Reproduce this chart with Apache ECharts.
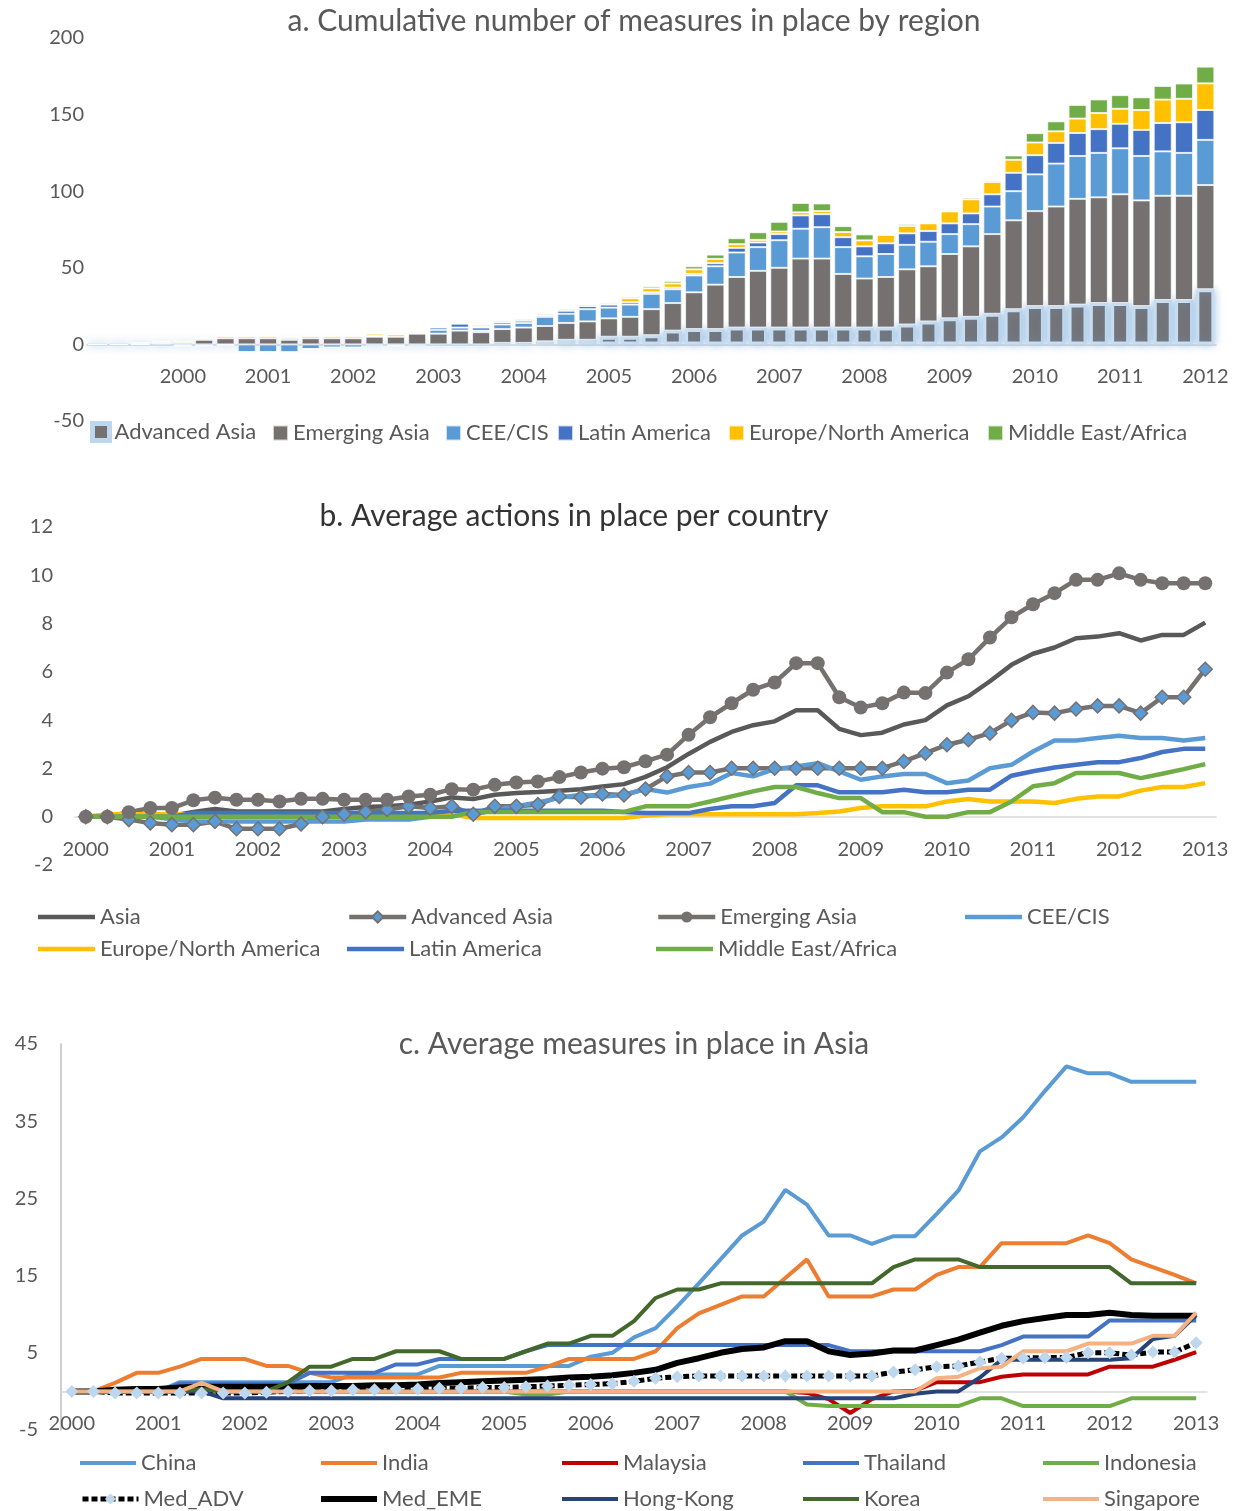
<!DOCTYPE html>
<html>
<head>
<meta charset="utf-8">
<script src="https://cdn.jsdelivr.net/npm/echarts@6/dist/echarts.min.js"></script>
<style>
  html, body { margin: 0; padding: 0; background: #fff; }
  #chart { width: 1238px; height: 1511px; }
</style>
</head>
<body>
<div id="chart"></div>
<script>
// quarterly categories, 53 per panel
function quarterList(startYear, count) {
  var out = [];
  for (var i = 0; i < count; i++) out.push((startYear + Math.floor(i / 4)) + 'Q' + (i % 4 + 1));
  return out;
}
var quartersA = quarterList(1999, 53);
var quarters = quarterList(2000, 53);
var yearTicksA = ['2000','2001','2002','2003','2004','2005','2006','2007','2008','2009','2010','2011','2012'];
var yearTicks = ['2000','2001','2002','2003','2004','2005','2006','2007','2008','2009','2010','2011','2012','2013'];

// a. cumulative number of measures (stacked)
var advancedAsiaA = [0,0,0,0, 0,0,0,0, 0,0,0,0, 0,0,0,0, 0,0,0,1, 1,2,3,3, 5,5,6,9, 10,10,11,11, 11,11,11,11, 11,11,13,15, 17,18,20,23, 25,25,26,27, 27,25,29,29, 36];
var emergingAsiaA = [0,0,0,1, 1,3,4,4, 4,3,4,4, 4,5,5,7, 7,9,8,9, 10,10,11,12, 12,13,17,18, 24,29,33,37, 39,45,45,35, 32,33,36,36, 42,46,52,58, 62,65,69,69, 71,69,68,68, 68];
var ceeCisA = [0,0,0,0, -1,-1,-0.5,-5, -5,-5,-3,-2, -2,-1,-1,-1, 2.5,2,1,3, 3,6,6,8, 7,8,10,9, 11,12,16,15.5, 18,19.5,20.5,17.5, 14.5,15,16,16, 13,14.5,18,19, 24,28,28,29, 30,29,29,28, 29.5];
var latinAmericaA = [0,0,0,0, 0,0,0,0, 0,1,0,0, 0,0.5,0,0.7, 1.5,2.5,2,1.5, 1.5,1,2,2, 2,1.5,1,1, 1,2,3,3, 4,8.7,8.5,6.5, 6.5,7,7.5,7, 7,7,8,12, 12.5,13.5,15,15.5, 16,17,18.5,20, 19.5];
var europeNorthAmericaA = [0,0,1,1, 1,1,1.5,1.5, 1.5,1,1.5,1.5, 1.5,1.5,1.5,1, 1,0.7,1,0, 0,0,0,0, 0,2.6,2.6,2.8, 3,2.8,2.4,1.7, 1.7,2,2,3.3, 3.9,5.4,4.8,5, 7.8,9.2,8,8.5, 8.3,7.6,9.4,10.5, 9.8,13,15.3,15.3, 17.4];
var middleEastAfricaA = [0,0,0,0, 0,0,0,0, 0,0,0,0, 0,0,0,0, 0,0,1,1, 1,1,1,1, 1,1,1.3,1.5, 2,2.8,3.9,5, 6.3,6.1,5,3.9, 3.9,0.4,1.3,0, 0,1.1,0.9,2.8, 6.1,6.5,8.9,8.9, 8.9,8.3,8.9,10, 10.9];

// b. average actions in place per country
var asiaB = [0,0,0,0, 0.04,0.2,0.32,0.22, 0.22,0.22,0.22,0.22, 0.32,0.4,0.43,0.5, 0.63,0.8,0.73,0.91, 0.98,1.02,1.08,1.14, 1.25,1.35,1.65,2.05, 2.6,3.1,3.51,3.79, 3.95,4.41,4.41,3.64, 3.38,3.48,3.82,4.0, 4.61,4.99,5.61,6.29, 6.75,7.01,7.39,7.46, 7.6,7.3,7.53,7.53, 8.04];
var advancedAsiaB = [0,0,-0.12,-0.26, -0.33,-0.33,-0.2,-0.5, -0.5,-0.5,-0.3,0, 0.1,0.2,0.3,0.43, 0.36,0.43,0.1,0.43, 0.43,0.5,0.84,0.81, 0.94,0.9,1.15,1.67, 1.83,1.83,2.01,2.01, 2.01,2.01,2.01,2.01, 2.01,2.01,2.29,2.63, 2.98,3.19,3.46,3.99, 4.32,4.29,4.46,4.59, 4.59,4.29,4.95,4.95, 6.11];
var emergingAsiaB = [0,0,0.19,0.36, 0.36,0.68,0.79,0.7, 0.7,0.63,0.74,0.74, 0.7,0.7,0.7,0.84, 0.91,1.14,1.12,1.32, 1.42,1.46,1.64,1.83, 1.99,2.05,2.3,2.57, 3.39,4.12,4.7,5.26, 5.56,6.36,6.36,4.95, 4.52,4.7,5.14,5.12, 5.97,6.52,7.42,8.26, 8.8,9.26,9.81,9.81, 10.08,9.81,9.67,9.67, 9.67];
var ceeCisB = [0,0,0,0, -0.1,-0.2,-0.2,-0.2, -0.2,-0.2,-0.2,-0.2, -0.2,-0.12,-0.12,-0.12, 0,0.08,0.08,0.29, 0.43,0.59,0.78,0.91, 0.84,0.9,1.15,1.0, 1.23,1.37,1.81,1.67, 1.97,2.08,2.22,1.88, 1.53,1.67,1.77,1.77, 1.39,1.5,2.01,2.15, 2.7,3.16,3.16,3.26, 3.35,3.26,3.26,3.16, 3.26];
var europeNorthAmericaB = [0,0.1,0.1,0.1, 0.1,0.1,0.1,0.1, 0.1,0.1,0.1,0.1, 0.1,0.1,0.1,0.1, 0.1,0.1,-0.05,-0.05, -0.05,-0.05,-0.05,-0.05, -0.05,-0.05,0.05,0.1, 0.1,0.1,0.1,0.1, 0.1,0.1,0.15,0.22, 0.36,0.43,0.43,0.43, 0.63,0.73,0.63,0.63, 0.63,0.57,0.74,0.84, 0.84,1.08,1.23,1.23, 1.39];
var latinAmericaB = [0,0,0,0, 0,0.15,0.15,0.15, 0.15,0.15,0.15,0.15, 0.15,0.15,0.15,0.15, 0.15,0.25,0.25,0.25, 0.25,0.25,0.25,0.25, 0.25,0.2,0.15,0.15, 0.15,0.32,0.43,0.43, 0.57,1.3,1.3,1.01, 1.01,1.01,1.12,1.01, 1.01,1.12,1.12,1.7, 1.88,2.04,2.15,2.26, 2.26,2.43,2.68,2.81, 2.81];
var middleEastAfricaB = [0,0,0,0, 0,0,0,0, 0,0,0,0, 0,0,0,0, 0,0,0.2,0.2, 0.2,0.2,0.2,0.2, 0.2,0.2,0.43,0.43, 0.43,0.63,0.84,1.05, 1.23,1.23,0.98,0.77, 0.77,0.19,0.19,0, 0,0.19,0.19,0.63, 1.26,1.39,1.81,1.81, 1.81,1.6,1.78,1.97, 2.18];

// c. average measures in place in Asia
var chinaC = [0,0,0,0, 0,1.2,1.2,1.2, 1.2,1.2,1.2,1.2, 1.2,2.2,2.2,2.2, 2.2,3.3,3.3,3.3, 3.3,3.3,3.3,3.3, 4.5,5,7,8.2, 11,14,17.1,20.2, 22,26.1,24.2,20.2, 20.2,19.1,20.1,20.1, 23,26,31.1,32.9, 35.5,38.9,42.1,41.2, 41.2,40.1,40.1,40.1, 40.1];
var indiaC = [0,0,1.1,2.4, 2.4,3.2,4.2,4.2, 4.2,3.3,3.3,2.4, 1.8,1.8,1.8,1.8, 1.8,1.8,2.4,2.4, 2.4,2.4,3.2,4.2, 4.2,4.2,4.2,5.2, 8.2,10.1,11.2,12.3, 12.3,14.7,17.1,12.3, 12.3,12.3,13.2,13.2, 15.1,16.1,16.1,19.2, 19.2,19.2,19.2,20.2, 19.2,17.1,16.1,15.1, 14.0];
var malaysiaC = [0,0,0,0, 0,0,0,0, 0,0,0,0, 0,0,0,0, 0,0,0,0, 0,0,0,0, 0,0,0,0, 0,0,0,0, 0,0,-0.2,-1, -2.8,-1,0,0.1, 1.2,1.2,1.2,1.9, 2.2,2.2,2.2,2.2, 3.2,3.2,3.2,4.1, 5.1];
var thailandC = [0,0,0,0, 0,1,1,1, 1,1,1,2.4, 2.4,2.4,2.4,3.5, 3.5,4.2,4.2,4.2, 4.2,5.2,6,6, 6,6,6,6, 6,6,6,6, 6,6,6,6, 5.2,5.2,5.2,5.2, 5.2,5.2,5.2,6, 7.1,7.1,7.1,7.1, 9.2,9.2,9.2,9.2, 9.2];
var indonesiaC = [0,0,0,0, 0,0,0,0, 0,0,0,0, 0,0,0,0, 0,0,0,0, 0,-0.4,-0.4,0, 0,0,0,0, 0,0,0,0, 0,0,-1.7,-1.9, -1.9,-1.9,-1.9,-1.9, -1.9,-1.9,-0.9,-0.9, -1.9,-1.9,-1.9,-1.9, -1.9,-0.9,-0.9,-0.9, -0.9];
var medAdvC = [0,0,-0.2,-0.2, -0.2,-0.2,-0.2,-0.2, -0.2,-0.1,0,0.1, 0.1,0.2,0.2,0.3, 0.3,0.4,0.4,0.5, 0.5,0.6,0.7,0.8, 0.9,1.0,1.3,1.7, 1.9,2,2,2, 2,2,2,2, 2,2,2.5,2.8, 3.2,3.3,3.8,4.3, 4.3,4.4,4.4,5.0, 5.0,4.7,5.1,5.1, 6.3];
var medEmeC = [0,0,0.2,0.3, 0.3,0.5,0.6,0.6, 0.6,0.6,0.6,0.7, 0.7,0.7,0.8,0.8, 0.9,1.1,1.2,1.3, 1.4,1.5,1.6,1.8, 1.9,2.1,2.4,2.8, 3.7,4.3,5.0,5.5, 5.7,6.5,6.5,5.2, 4.7,4.9,5.3,5.3, 6.0,6.7,7.6,8.5, 9.1,9.5,9.9,9.9, 10.2,9.9,9.8,9.8, 9.8];
var hongKongC = [0,0,0,0, 0,0,0,-0.9, -0.9,-0.9,-0.9,-0.9, -0.9,-0.9,-0.9,-0.9, -0.9,-0.9,-0.9,-0.9, -0.9,-0.9,-0.9,-0.9, -0.9,-0.9,-0.9,-0.9, -0.9,-0.9,-0.9,-0.9, -0.9,-0.9,-0.9,-0.9, -0.9,-0.9,-0.9,-0.3, 0,0,1.8,4.1, 4.1,4.1,4.1,4.1, 4.1,4.3,6.8,7.2, 9.9];
var koreaC = [0,0,0,0, 0,0,0.3,0, 0,0,1.2,3.2, 3.2,4.2,4.2,5.2, 5.2,5.2,4.2,4.2, 4.2,5.2,6.2,6.2, 7.2,7.2,9.1,12.1, 13.2,13.2,14,14, 14,14,14,14, 14,14,16.1,17.1, 17.1,17.1,16.1,16.1, 16.1,16.1,16.1,16.1, 16.1,14,14,14, 14];
var singaporeC = [0,0,0,0, 0,0,1.1,0, 0,0,0,0, 0,0,0,0, 0,0,0,0, 0,0,0,0, 0,0,0,0, 0,0,0,0, 0,0,0,0, 0,0,0,0, 1.7,1.9,3.0,3.2, 5.2,5.2,5.2,6.2, 6.2,6.2,7.2,7.2, 10.2];

var FONT = 'Lato, "Open Sans", sans-serif';
var TXT = '#595959';
var AXIS = '#D9D9D9';

// plain line legend icons (tiny corner marks keep the 14px box)
function lineIcon(w, y0, y1) {
  return 'path://M0,0L0.05,0L0,0.05Z M0,' + y0 + 'H' + w + 'V' + y1 + 'H0Z M0,14L0.05,14L0,13.95Z';
}

var chart = echarts.init(document.getElementById('chart'));

function legendAt(item, left, top, w, h) {
  return {
    data: [item], left: left, top: top, itemWidth: w, itemHeight: h,
    padding: 0, itemGap: 0, selectedMode: false,
    formatter: function (n) { return n.slice(2); },
    textStyle: { fontSize: 22, color: TXT, fontFamily: FONT }
  };
}
function plainLine(name, w, y0, y1) {
  return { name: name, icon: lineIcon(w, y0, y1), itemStyle: { borderWidth: 0 } };
}

function barSeries(name, data, color, extra) {
  var s = {
    type: 'bar', name: name, data: data, xAxisIndex: 0, yAxisIndex: 0, stack: 'a', barWidth: 18,
    itemStyle: { color: color, borderColor: 'rgba(255,255,255,0.7)', borderWidth: 1 }
  };
  if (extra) s.itemStyle = extra;
  return s;
}

function lineSeries(name, data, color, width, axis, extra) {
  var s = {
    type: 'line', name: name, data: data, xAxisIndex: axis, yAxisIndex: axis,
    symbol: 'none', lineStyle: { color: color, width: width }, itemStyle: { color: color }
  };
  if (extra) Object.assign(s, extra);
  return s;
}

function labelAxis(grid, data, margin, fmt) {
  return {
    type: 'category', gridIndex: grid, data: data, boundaryGap: true, position: 'bottom',
    axisLine: { show: false, onZero: false }, axisTick: { show: false },
    axisLabel: { interval: 0, margin: margin, fontSize: 20, color: TXT, formatter: fmt }
  };
}

var option = {
  animation: false,
  textStyle: { fontFamily: FONT },
  graphic: [
    { type: 'text', x: 634, y: 21, style: { text: 'a. Cumulative number of measures in place by region', font: '30px ' + FONT, fill: TXT, textAlign: 'center', textVerticalAlign: 'middle' } },
    { type: 'text', x: 574, y: 516, style: { text: 'b. Average actions in place per country', font: '30px ' + FONT, fill: '#333333', textAlign: 'center', textVerticalAlign: 'middle' } },
    { type: 'text', x: 634, y: 1044, style: { text: 'c. Average measures in place in Asia', font: '30px ' + FONT, fill: TXT, textAlign: 'center', textVerticalAlign: 'middle' } }
  ],
  grid: [
    { left: 87, top: 38, width: 1129, height: 383 },
    { left: 75, top: 527, width: 1141, height: 338 },
    { left: 61, top: 1044, width: 1146, height: 386 }
  ],
  xAxis: [
    labelAxis(0, quartersA, -54, function (v, i) { return (i >= 4 && i % 4 === 0) ? yearTicksA[i / 4 - 1] : ''; }),
    labelAxis(1, quarters, -25, function (v, i) { return i % 4 === 0 ? yearTicks[i / 4] : ''; }),
    labelAxis(2, quarters, -16, function (v, i) { return i % 4 === 0 ? yearTicks[i / 4] : ''; }),
    {
      type: 'category', gridIndex: 0, data: quartersA, boundaryGap: true, position: 'top',
      axisLine: { onZero: true, lineStyle: { color: AXIS, width: 1.5 } },
      axisTick: { interval: 0, alignWithLabel: true, length: 5, lineStyle: { color: AXIS } },
      axisLabel: { show: false }
    },
    {
      type: 'category', gridIndex: 1, data: quarters, boundaryGap: true, position: 'top',
      axisLine: { onZero: true, lineStyle: { color: AXIS, width: 1.5 } },
      axisTick: { interval: 0, inside: true, length: 7, lineStyle: { color: AXIS } },
      axisLabel: { show: false }
    },
    {
      type: 'category', gridIndex: 2, data: quarters, boundaryGap: true, position: 'top',
      axisLine: { show: true, onZero: true, lineStyle: { color: AXIS, width: 1.5 } },
      axisTick: { show: false }, axisLabel: { show: false }
    }
  ],
  yAxis: [
    {
      type: 'value', gridIndex: 0, min: -50, max: 200, interval: 50,
      splitLine: { show: false }, axisLine: { show: false }, axisTick: { show: false },
      axisLabel: { fontSize: 20, color: TXT, margin: 3 }
    },
    {
      type: 'value', gridIndex: 1, min: -2, max: 12, interval: 2,
      splitLine: { show: false }, axisLine: { show: false }, axisTick: { show: false },
      axisLabel: { fontSize: 20, color: TXT, margin: 22 }
    },
    {
      type: 'value', gridIndex: 2, min: -5, max: 45, interval: 5,
      splitLine: { show: false }, axisTick: { show: false },
      axisLine: { show: true, lineStyle: { color: '#BFBFBF', width: 1.5 } },
      axisLabel: {
        fontSize: 20, color: TXT, margin: 23,
        formatter: function (v) { return ((v + 5) % 10 === 0) ? String(v) : ''; }
      }
    }
  ],
  legend: [
    legendAt({ name: 'a:Advanced Asia', icon: 'rect', itemStyle: { color: '#767171', borderColor: '#BDD7EE', borderWidth: 5 } }, 90, 421, 17, 17),
    legendAt({ name: 'a:Emerging Asia', icon: 'rect' }, 272, 422, 15, 15),
    legendAt({ name: 'a:CEE/CIS', icon: 'rect' }, 445, 422, 15, 15),
    legendAt({ name: 'a:Latin America', icon: 'rect' }, 557, 422, 15, 15),
    legendAt({ name: 'a:Europe/North America', icon: 'rect' }, 728, 422, 15, 15),
    legendAt({ name: 'a:Middle East/Africa', icon: 'rect' }, 987, 422, 15, 15),

    legendAt(plainLine('b:Asia', 57, 4.75, 9.25), 38, 906, 57, 14),
    legendAt({ name: 'b:Advanced Asia', lineStyle: { width: 4.5 } }, 347, 906, 57, 14),
    legendAt({ name: 'b:Emerging Asia', lineStyle: { width: 4.5 } }, 656, 906, 57, 14),
    legendAt(plainLine('b:CEE/CIS', 57, 4.75, 9.25), 965, 906, 57, 14),
    legendAt(plainLine('b:Europe/North America', 57, 4.75, 9.25), 38, 938, 57, 14),
    legendAt(plainLine('b:Latin America', 57, 4.75, 9.25), 347, 938, 57, 14),
    legendAt(plainLine('b:Middle East/Africa', 57, 4.75, 9.25), 656, 938, 57, 14),

    legendAt(plainLine('c:China', 56, 5, 9), 80, 1452, 56, 14),
    legendAt(plainLine('c:India', 56, 5, 9), 321, 1452, 56, 14),
    legendAt(plainLine('c:Malaysia', 56, 5, 9), 562, 1452, 56, 14),
    legendAt(plainLine('c:Thailand', 56, 5, 9), 803, 1452, 56, 14),
    legendAt(plainLine('c:Indonesia', 56, 5, 9), 1043, 1452, 56, 14),
    legendAt({ name: 'c:Med_ADV', lineStyle: { width: 5 } }, 80, 1488, 56, 14),
    legendAt(plainLine('c:Med_EME', 56, 4, 10), 321, 1488, 56, 14),
    legendAt(plainLine('c:Hong-Kong', 56, 5, 9), 562, 1488, 56, 14),
    legendAt(plainLine('c:Korea', 56, 5, 9), 803, 1488, 56, 14),
    legendAt(plainLine('c:Singapore', 56, 5, 9), 1043, 1488, 56, 14)
  ],
  series: [
    barSeries('a:Advanced Asia', advancedAsiaA, '#767171', {
      color: '#767171', borderColor: '#C9DDF0', borderWidth: 3,
      shadowBlur: 8, shadowColor: 'rgba(91,155,213,0.55)'
    }),
    barSeries('a:Emerging Asia', emergingAsiaA, '#767171'),
    barSeries('a:CEE/CIS', ceeCisA, '#5B9BD5'),
    barSeries('a:Latin America', latinAmericaA, '#4472C4'),
    barSeries('a:Europe/North America', europeNorthAmericaA, '#FFC000'),
    barSeries('a:Middle East/Africa', middleEastAfricaA, '#70AD47'),

    lineSeries('b:Asia', asiaB, '#595959', 4.5, 1),
    lineSeries('b:Advanced Asia', advancedAsiaB, '#767171', 4.5, 1, {
      symbol: 'diamond', symbolSize: 14, showSymbol: true,
      itemStyle: { color: '#5B9BD5', borderColor: '#767171', borderWidth: 1.5 }
    }),
    lineSeries('b:Emerging Asia', emergingAsiaB, '#767171', 4.5, 1, {
      symbol: 'circle', symbolSize: 14, showSymbol: true,
      itemStyle: { color: '#767171' }
    }),
    lineSeries('b:CEE/CIS', ceeCisB, '#5B9BD5', 4.5, 1),
    lineSeries('b:Europe/North America', europeNorthAmericaB, '#FFC000', 4.5, 1),
    lineSeries('b:Latin America', latinAmericaB, '#4472C4', 4.5, 1),
    lineSeries('b:Middle East/Africa', middleEastAfricaB, '#70AD47', 4.5, 1),

    lineSeries('c:China', chinaC, '#5B9BD5', 4, 2),
    lineSeries('c:India', indiaC, '#ED7D31', 4, 2),
    lineSeries('c:Malaysia', malaysiaC, '#C00000', 4, 2),
    lineSeries('c:Thailand', thailandC, '#4472C4', 4, 2),
    lineSeries('c:Indonesia', indonesiaC, '#70AD47', 4, 2),
    lineSeries('c:Med_ADV', medAdvC, '#000000', 5, 2, {
      symbol: 'diamond', symbolSize: 13, showSymbol: true,
      lineStyle: { color: '#000000', width: 5, type: [6, 3] },
      itemStyle: { color: '#BDD7EE' }
    }),
    lineSeries('c:Med_EME', medEmeC, '#000000', 6, 2),
    lineSeries('c:Hong-Kong', hongKongC, '#264478', 4, 2),
    lineSeries('c:Korea', koreaC, '#43682B', 4, 2),
    lineSeries('c:Singapore', singaporeC, '#F4B183', 4, 2)
  ]
};

chart.setOption(option);
</script>
</body>
</html>
